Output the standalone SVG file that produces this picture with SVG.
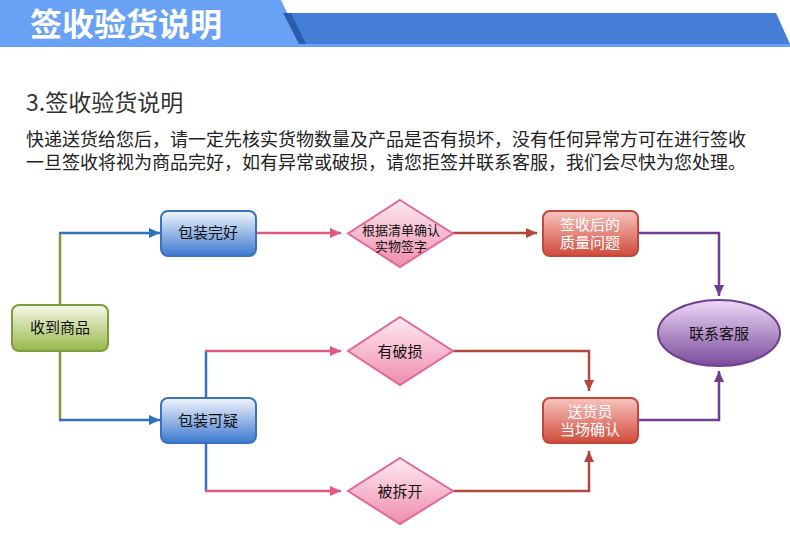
<svg xmlns="http://www.w3.org/2000/svg" width="790" height="543" viewBox="0 0 790 543">
<defs>
<linearGradient id="gGreen" x1="0" y1="0" x2="0" y2="1"><stop offset="0" stop-color="#f6f9e8"/><stop offset="1" stop-color="#98b84a"/></linearGradient>
<linearGradient id="gBlue" x1="0" y1="0" x2="0" y2="1"><stop offset="0" stop-color="#f2f7fd"/><stop offset="1" stop-color="#3b78cf"/></linearGradient>
<linearGradient id="gPink" x1="0" y1="0" x2="0" y2="1"><stop offset="0" stop-color="#fdeaf1"/><stop offset="1" stop-color="#ef8cae"/></linearGradient>
<linearGradient id="gRed" x1="0" y1="0" x2="0" y2="1"><stop offset="0" stop-color="#f8c4bf"/><stop offset="1" stop-color="#d04a3b"/></linearGradient>
<linearGradient id="gPurple" x1="0" y1="0" x2="0" y2="1"><stop offset="0" stop-color="#eed9f7"/><stop offset="1" stop-color="#7a4a9b"/></linearGradient>
<marker id="aBlue" markerUnits="userSpaceOnUse" markerWidth="12" markerHeight="12" refX="11" refY="6" orient="auto"><path d="M0,1 L11,6 L0,11 z" fill="#3270c0"/></marker>
<marker id="aPink" markerUnits="userSpaceOnUse" markerWidth="12" markerHeight="12" refX="11" refY="6" orient="auto"><path d="M0,1 L11,6 L0,11 z" fill="#e0577f"/></marker>
<marker id="aRed" markerUnits="userSpaceOnUse" markerWidth="12" markerHeight="12" refX="11" refY="6" orient="auto"><path d="M0,1 L11,6 L0,11 z" fill="#b4473c"/></marker>
<marker id="aPurple" markerUnits="userSpaceOnUse" markerWidth="12" markerHeight="12" refX="11" refY="6" orient="auto"><path d="M0,1 L11,6 L0,11 z" fill="#6f3d91"/></marker>
</defs>
<style>
text{font-family:"Noto Sans CJK SC","Liberation Sans",sans-serif;}
text.two{font-family:"Liberation Sans","Noto Sans CJK SC",sans-serif;}
.nt{font-size:15px;fill:#111;text-anchor:middle;}
.dt{font-size:13px;fill:#111;text-anchor:middle;}
.wt{font-size:15px;fill:#fff;text-anchor:middle;}
.body{font-size:18px;fill:#222;}
.ln{fill:none;stroke-width:2.5;}
.blue{stroke:#3270c0;}
.green{stroke:#7c9a38;}
.pink{stroke:#e0577f;}
.red{stroke:#b4473c;}
.purple{stroke:#6f3d91;}
.rgreen{fill:url(#gGreen);stroke:#7f9c3c;stroke-width:2;}
.rblue{fill:url(#gBlue);stroke:#3a72c0;stroke-width:2;}
.rpink{fill:url(#gPink);stroke:#e3679a;stroke-width:2;}
.rred{fill:url(#gRed);stroke:#c1473b;stroke-width:2;}
.rpurple{fill:url(#gPurple);stroke:#6d3f8f;stroke-width:2;}
</style>
<rect width="790" height="543" fill="#fff"/>
<g id="header">
<polygon points="0,0 281,0 302,44 0,44" fill="#69a2f5"/>
<polygon points="289,13 776,13 790,44 304,44" fill="#447ed6"/>
<polygon points="283,13 291,13 306,44 299,44" fill="#2c5cae"/>
<rect x="0" y="44" width="790" height="3" fill="#69a2f5"/>
<text x="30" y="36" font-size="32" font-weight="bold" fill="#fff">签收验货说明</text>
</g>
<g id="intro">
<text x="26" y="111" font-size="23" fill="#333">3.签收验货说明</text>
<text class="body two"><tspan x="26" y="146">快递送货给您后，请一定先核实货物数量及产品是否有损坏，没有任何异常方可在进行签收</tspan><tspan x="26" y="169">一旦签收将视为商品完好，如有异常或破损，请您拒签并联系客服，我们会尽快为您处理。</tspan></text>
</g>
<g id="connectors">
<path class="ln green" d="M60,305 V233"/>
<path class="ln blue" d="M59,233 H160" marker-end="url(#aBlue)"/>
<path class="ln green" d="M60,351 V420"/>
<path class="ln blue" d="M59,420 H160" marker-end="url(#aBlue)"/>
<path class="ln pink" d="M256,233 H341" marker-end="url(#aPink)"/>
<path class="ln red" d="M453,233 H537" marker-end="url(#aRed)"/>
<path class="ln purple" d="M638,233 H719 V296" marker-end="url(#aPurple)"/>
<path class="ln blue" d="M206,398 V351"/>
<path class="ln pink" d="M205,351 H341" marker-end="url(#aPink)"/>
<path class="ln blue" d="M206,443 V491"/>
<path class="ln pink" d="M205,491 H341" marker-end="url(#aPink)"/>
<path class="ln red" d="M453,351 H589 V391" marker-end="url(#aRed)"/>
<path class="ln red" d="M453,491 H589 V451" marker-end="url(#aRed)"/>
<path class="ln purple" d="M638,420 H719 V371" marker-end="url(#aPurple)"/>
</g>
<g id="n-receive"><rect class="rgreen" x="12" y="305" width="96" height="46" rx="7"/><text class="nt" x="60" y="333">收到商品</text></g>
<g id="n-good"><rect class="rblue" x="161" y="211" width="95" height="45" rx="7"/><text class="nt" x="208" y="238">包装完好</text></g>
<g id="n-doubt"><rect class="rblue" x="161" y="398" width="95" height="45" rx="7"/><text class="nt" x="208" y="426">包装可疑</text></g>
<g id="n-check"><polygon class="rpink" points="400,200 453,233.5 400,267 348,233.5"/><text class="dt two"><tspan x="401" y="235">根据清单确认</tspan><tspan x="401" y="251">实物签字</tspan></text></g>
<g id="n-damaged"><polygon class="rpink" points="400,317 453,351 400,385 348,351"/><text class="nt" x="400" y="357">有破损</text></g>
<g id="n-opened"><polygon class="rpink" points="400,458 453,491 400,524 348,491"/><text class="nt" x="400" y="497">被拆开</text></g>
<g id="n-quality"><rect class="rred" x="543" y="211" width="95" height="45" rx="7"/><text class="wt two"><tspan x="590" y="230">签收后的</tspan><tspan x="590" y="248">质量问题</tspan></text></g>
<g id="n-courier"><rect class="rred" x="543" y="398" width="95" height="45" rx="7"/><text class="wt two"><tspan x="590" y="417">送货员</tspan><tspan x="590" y="435">当场确认</tspan></text></g>
<g id="n-service"><ellipse class="rpurple" cx="719" cy="333" rx="61" ry="33"/><text class="nt" x="719" y="339">联系客服</text></g>
</svg>
